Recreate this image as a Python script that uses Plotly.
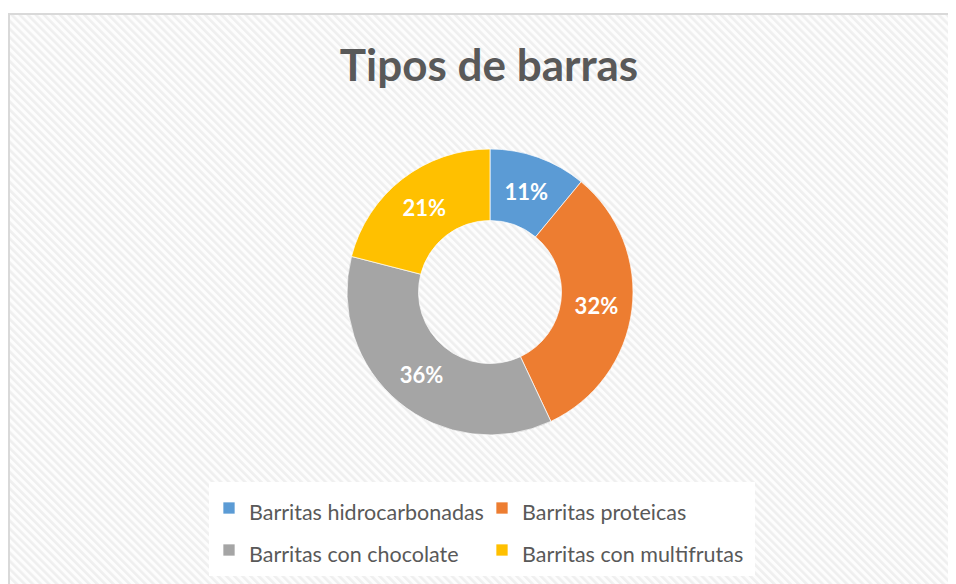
import base64
import plotly.graph_objects as go

# datos del gráfico
categorias = ["Barritas hidrocarbonadas", "Barritas proteicas",
              "Barritas con chocolate", "Barritas con multifrutas"]
porcentajes = [11, 32, 36, 21]
colores = ["#5B9BD5", "#ED7D31", "#A5A5A5", "#FFC000"]

W, H = 956, 584
ML, MR = 180, 180
PW = W - ML - MR
OFF = 8  # margen del body de la página html


def px_x(p):
    """pixel x de la página -> coordenada paper"""
    return (p - OFF - ML) / PW


def px_y(p):
    return 1 - (p - OFF) / H


# fondo rayado (patrón diagonal tipo Excel)
svg = (
    "<svg xmlns='http://www.w3.org/2000/svg' width='960' height='580'>"
    "<defs><pattern id='p' width='5.7' height='5.7' patternUnits='userSpaceOnUse' "
    "patternTransform='rotate(-45)'>"
    "<rect width='5.7' height='5.7' fill='#fdfdfd'/>"
    "<rect width='2.6' height='5.7' fill='#efefef'/>"
    "</pattern></defs>"
    "<rect width='100%' height='100%' fill='url(#p)'/></svg>"
)
fondo = "data:image/svg+xml;base64," + base64.b64encode(svg.encode()).decode()

# texto de la leyenda algo más pequeño que la fuente base (más espacio entre filas)
etiquetas = [f"<span style='font-size:21.5px'>{c}</span>" for c in categorias]

fig = go.Figure()
fig.add_trace(go.Pie(
    labels=etiquetas,
    values=porcentajes,
    hole=0.5,
    sort=False,
    direction="clockwise",
    marker=dict(colors=colores, line=dict(color="white", width=0.7)),
    texttemplate="%{percent:.0%}",
    textposition="inside",
    insidetextorientation="horizontal",
    textfont=dict(family="Lato", size=22, color="white", weight="bold"),
    domain=dict(x=[px_x(347), px_x(633)], y=[px_y(435), px_y(149)]),
))

fig.update_layout(
    width=W, height=H,
    margin=dict(l=ML, r=MR, t=0, b=0),
    paper_bgcolor="white",
    plot_bgcolor="white",
    title=dict(
        text="Tipos de barras",
        font=dict(family="Lato", size=44, color="#595959", weight="bold"),
        x=(489 - OFF) / W, xref="container", xanchor="center",
        y=1 - (66 - OFF) / H, yref="container", yanchor="middle",
    ),
    legend=dict(
        orientation="h",
        x=px_x(209), xanchor="left",
        y=px_y(482), yanchor="top",
        bgcolor="white",
        font=dict(family="Lato", size=30, color="#595959"),
        entrywidth=228,
        itemwidth=30,
    ),
    images=[dict(
        source=fondo, xref="paper", yref="paper",
        x=px_x(9), y=px_y(14), sizex=960 / PW, sizey=580 / H,
        xanchor="left", yanchor="top", sizing="stretch", layer="below",
    )],
    shapes=[dict(
        type="rect", xref="paper", yref="paper",
        x0=px_x(9), x1=px_x(975), y0=px_y(600), y1=px_y(14),
        line=dict(color="#d9d9d9", width=2), fillcolor="rgba(0,0,0,0)",
    )],
)

fig.write_html("out.html")
